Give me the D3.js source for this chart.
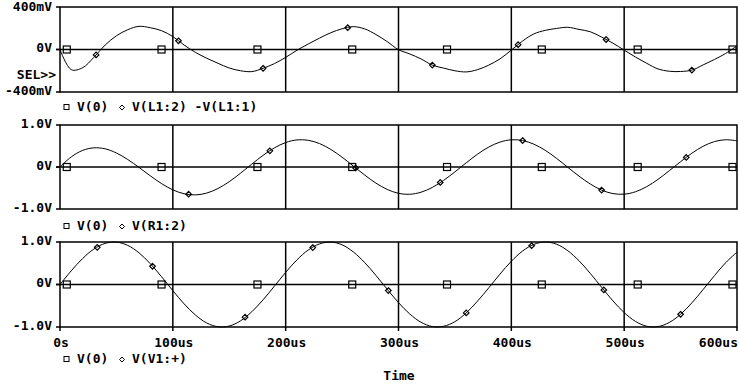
<!DOCTYPE html>
<html>
<head>
<meta charset="utf-8">
<script src="https://cdn.jsdelivr.net/npm/d3@7"></script>
<style>
  body { margin: 0; background: #fff; }
  svg text { font-family: "DejaVu Sans Mono", monospace; font-weight: bold; font-size: 13px; fill: #000; }
</style>
</head>
<body>
<div id="chart"></div>
<script>
// sample times (us)
const times = [0,10,20,30,40,50,60,70,80,90,100,110,120,130,140,150,160,170,180,190,
  200,210,220,230,240,250,260,270,280,290,300,310,320,330,340,350,360,370,380,390,
  400,410,420,430,440,450,460,470,480,490,500,510,520,530,540,550,560,570,580,590,600];

// V(L1:2) - V(L1:1), in mV
const vL1 = [0,-190,-172,-74,42,129,186,218,205,177,122,42,-27,-82,-130,-174,-200,-208,-177,-133,
  -74,-7,52,107,158,195,215,194,141,74,-2,-42,-89,-147,-175,-200,-211,-190,-147,-88,
  -6,80,147,180,198,209,189,167,117,60,-6,-71,-130,-183,-205,-207,-194,-145,-94,-37,35];

// V(R1:2), in V
const vR1 = [0,0.241,0.395,0.456,0.433,0.334,0.179,-0.009,-0.209,-0.395,-0.544,-0.637,-0.664,-0.621,-0.512,-0.349,-0.147,0.069,0.278,0.455,
  0.582,0.645,0.636,0.558,0.419,0.233,0.021,-0.191,-0.384,-0.534,-0.626,-0.649,-0.600,-0.486,-0.318,-0.116,0.099,0.304,0.475,0.594,
  0.648,0.630,0.543,0.398,0.207,-0.006,-0.218,-0.405,-0.550,-0.633,-0.647,-0.590,-0.468,-0.294,-0.088,0.126,0.328,0.494,0.605,0.649,0.623];

// V(V1:+), in V
const vV1 = [0,0.323,0.611,0.834,0.967,0.997,0.921,0.746,0.491,0.183,-0.144,-0.456,-0.718,-0.905,-0.994,-0.977,-0.855,-0.641,-0.360,-0.040,
  0.285,0.580,0.811,0.955,0.999,0.934,0.766,0.517,0.214,-0.112,-0.426,-0.694,-0.889,-0.989,-0.982,-0.875,-0.668,-0.393,-0.078,0.247,
  0.546,0.788,0.944,1.000,0.949,0.795,0.558,0.260,-0.065,-0.384,-0.661,-0.868,-0.982,-0.991,-0.893,-0.701,-0.432,-0.118,0.208,0.514,0.763];

// marker times (us)
const squareTimes = [6, 90, 175, 259, 343, 427, 512, 596];
const diamondL1 = [32, 105, 180, 255, 330, 406, 484, 560];
const diamondR1 = [114, 186, 262, 337, 410, 480, 555];
const diamondV1 = [33, 82, 164, 224, 291, 360, 418, 482, 550];

const xTicks = [0, 100, 200, 300, 400, 500, 600];
const xTickLabels = ["0s", "100us", "200us", "300us", "400us", "500us", "600us"];

const W = 739, H = 387;
const svg = d3.select("#chart").append("svg").attr("width", W).attr("height", H);

const x = d3.scaleLinear().domain([0, 600]).range([60, 737]);

const panels = [
  {values: vL1, domain: [-400, 400], range: [92, 7], labels: ["400mV", "0V", "-400mV"],
   diamonds: diamondL1, legend: "V(L1:2) -V(L1:1)", legendY: 107, sel: true},
  {values: vR1, domain: [-1, 1], range: [209, 125], labels: ["1.0V", "0V", "-1.0V"],
   diamonds: diamondR1, legend: "V(R1:2)", legendY: 226},
  {values: vV1, domain: [-1, 1], range: [327, 242], labels: ["1.0V", "0V", "-1.0V"],
   diamonds: diamondV1, legend: "V(V1:+)", legendY: 359}
];

let bisect = d3.bisector(d => d).left;
function valueAt(vals, t){
  let i = Math.max(1, Math.min(times.length - 1, bisect(times, t)));
  let t0 = times[i-1], t1 = times[i];
  let k = (t - t0) / (t1 - t0);
  return vals[i-1] + k * (vals[i] - vals[i-1]);
}

function diamondPath(cx, cy, r){
  return "M" + cx + "," + (cy - r) + "L" + (cx + r) + "," + cy + "L" + cx + "," + (cy + r) + "L" + (cx - r) + "," + cy + "Z";
}

panels.forEach((p, pi) => {
  let y = d3.scaleLinear().domain(p.domain).range(p.range);
  let g = svg.append("g");
  let top = y(p.domain[1]), bot = y(p.domain[0]), zero = y(0);

  // vertical grid lines
  g.selectAll(".vgrid").data(xTicks.slice(1, -1)).enter().append("line")
    .attr("x1", d => x(d)).attr("x2", d => x(d)).attr("y1", top).attr("y2", bot)
    .attr("stroke", "#000").attr("stroke-width", 1.5);

  // V(0) / zero line
  g.append("line").attr("x1", x(0) - 4).attr("x2", x(600)).attr("y1", zero).attr("y2", zero)
    .attr("stroke", "#000").attr("stroke-width", 1.5);

  // frame
  g.append("rect").attr("x", x(0)).attr("y", top).attr("width", x(600) - x(0)).attr("height", bot - top)
    .attr("fill", "none").attr("stroke", "#000").attr("stroke-width", 1.5);

  // y ticks + labels
  let yv = [p.domain[1], 0, p.domain[0]];
  yv.forEach((v, i) => {
    g.append("line").attr("x1", x(0) - 4).attr("x2", x(0)).attr("y1", y(v)).attr("y2", y(v))
      .attr("stroke", "#000").attr("stroke-width", 1.5);
    g.append("text").attr("x", 52).attr("y", Math.max(7, y(v) - 1)).attr("text-anchor", "end")
      .attr("dominant-baseline", "middle").text(p.labels[i]);
  });
  if(p.sel){
    g.append("text").attr("x", 56).attr("y", 75).attr("text-anchor", "end")
      .attr("dominant-baseline", "middle").text("SEL>>");
  }

  // curve
  let line = d3.line().x((d, i) => x(times[i])).y(d => y(d)).curve(d3.curveCatmullRom);
  g.append("path").datum(p.values).attr("d", line)
    .attr("fill", "none").attr("stroke", "#000").attr("stroke-width", 1);

  // square markers on V(0)
  g.selectAll(".sq").data(squareTimes).enter().append("rect")
    .attr("x", d => x(d) - 3.5).attr("y", zero - 3.5).attr("width", 7).attr("height", 7)
    .attr("fill", "none").attr("stroke", "#000").attr("stroke-width", 1.2);

  // diamond markers on the signal
  g.selectAll(".dm").data(p.diamonds).enter().append("path")
    .attr("d", d => diamondPath(x(d), y(valueAt(p.values, d)), 2.8))
    .attr("fill", "none").attr("stroke", "#000").attr("stroke-width", 1.2);

  // legend
  let ly = p.legendY;
  g.append("rect").attr("x", 64).attr("y", ly - 2.5).attr("width", 5).attr("height", 5)
    .attr("fill", "none").attr("stroke", "#000").attr("stroke-width", 1);
  g.append("text").attr("x", 77).attr("y", ly).attr("dominant-baseline", "middle").text("V(0)");
  g.append("path").attr("d", diamondPath(122, ly + 0.5, 2.5))
    .attr("fill", "none").attr("stroke", "#000").attr("stroke-width", 1);
  g.append("text").attr("x", 132).attr("y", ly).attr("dominant-baseline", "middle").text(p.legend);

  // x axis labels on the last panel
  if(pi == panels.length - 1){
    g.selectAll(".xt").data(xTicks).enter().append("line")
      .attr("x1", d => x(d)).attr("x2", d => x(d)).attr("y1", bot).attr("y2", bot + 4)
      .attr("stroke", "#000").attr("stroke-width", 1.5);
    g.selectAll(".xl").data(xTicks).enter().append("text")
      .attr("x", d => x(d) + 1)
      .attr("y", bot + 16)
      .attr("text-anchor", (d, i) => i == xTicks.length - 1 ? "end" : "middle")
      .attr("dominant-baseline", "middle")
      .text((d, i) => xTickLabels[i]);
  }
});

svg.append("text").attr("x", 399).attr("y", 376).attr("text-anchor", "middle")
  .attr("dominant-baseline", "middle").text("Time");
</script>
</body>
</html>
